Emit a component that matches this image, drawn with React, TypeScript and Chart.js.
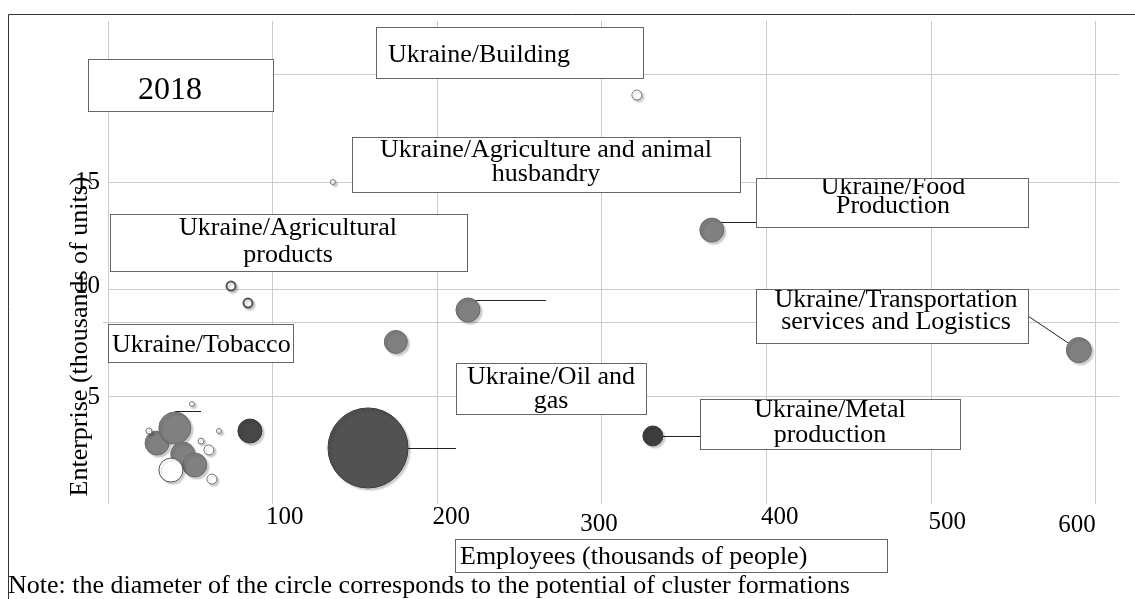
import React, { useEffect, useRef } from 'react';
import { Chart, registerables } from 'chart.js';
Chart.register(...registerables);

// ---- data (employees: thousands of people, enterprises: thousands of units, potential -> circle radius) ----
const filledEmployees = [29.8, 40.6, 45.4, 52.7, 174.8, 218.6, 366.7, 589.6];
const filledEnterprises = [2.84, 3.54, 2.33, 1.82, 7.55, 9.04, 12.76, 7.17];
const filledPotential = [12, 16, 12, 12, 11.5, 12, 12, 12.5];

const darkEmployees = [86.2, 157.9, 330.9];
const darkEnterprises = [3.4, 2.61, 3.17];
const darkPotential = [12, 40, 10];

const hollowEmployees = [24.9, 38.2, 51.0, 56.5, 61.3, 63.1, 67.4, 74.7, 85.0, 136.6, 321.2];
const hollowEnterprises = [3.4, 1.58, 4.66, 2.93, 2.52, 1.16, 3.4, 10.15, 9.36, 15.0, 19.05];
const hollowPotential = [3, 12, 2.5, 3, 5, 5, 2.5, 4.5, 4.5, 2.5, 5];

const xTickValues = [100, 200, 300, 400, 500, 600];
const xTickLabels = ['100', '200', '300', '400', '500', '600'];
const yTickValues = [5, 10, 15];
const yTickLabels = ['5', '10', '15'];
const strayLineValue = 8.5;

// ---- layout / style constants ----
const FONT = '"Liberation Serif", "Times New Roman", serif';
const xTickNudge = [[12, 8], [14, 8], [-3, 15], [13, 8], [16, 13], [-19, 16]];
const yTickNudge = [1, -3, 0];
const darkColors = ['#474747', '#525252', '#3d3d3d'];
const hollowBorder = ['#777', '#555', '#777', '#777', '#777', '#777', '#777', '#555', '#555', '#777', '#777'];
const hollowBorderWidth = [1, 1, 1, 1, 1, 1, 1, 2, 2, 1, 1];

type Box = { x: number; y: number; w: number; h: number; lines: string[]; size: number; align: 'left' | 'center'; tx: number; ty: number[] };
const boxes: Box[] = [
  { x: 88, y: 59, w: 185, h: 52, lines: ['2018'], size: 32, align: 'center', tx: 170, ty: [99] },
  { x: 376, y: 27, w: 267, h: 51, lines: ['Ukraine/Building'], size: 26, align: 'left', tx: 388, ty: [62] },
  { x: 352, y: 137, w: 388, h: 55, lines: ['Ukraine/Agriculture and animal', 'husbandry'], size: 26, align: 'center', tx: 546, ty: [157, 181] },
  { x: 110, y: 214, w: 357, h: 57, lines: ['Ukraine/Agricultural', 'products'], size: 26, align: 'center', tx: 288, ty: [235, 262] },
  { x: 108, y: 324, w: 185, h: 38, lines: ['Ukraine/Tobacco'], size: 26, align: 'left', tx: 112, ty: [352] },
  { x: 756, y: 178, w: 272, h: 49, lines: ['Ukraine/Food', 'Production'], size: 26, align: 'center', tx: 893, ty: [194, 213] },
  { x: 756, y: 289, w: 272, h: 54, lines: ['Ukraine/Transportation', 'services and Logistics'], size: 26, align: 'center', tx: 896, ty: [307, 329] },
  { x: 456, y: 363, w: 190, h: 51, lines: ['Ukraine/Oil and', 'gas'], size: 26, align: 'center', tx: 551, ty: [384, 408] },
  { x: 700, y: 399, w: 260, h: 50, lines: ['Ukraine/Metal', 'production'], size: 26, align: 'center', tx: 830, ty: [417, 442] },
  { x: 455, y: 539, w: 432, h: 33, lines: ['Employees (thousands of people)'], size: 26, align: 'left', tx: 460, ty: [564] },
];

type Leader = { ds: number; i: number; to: [number, number]; mode: 'h' | 'd' };
const leaders: Leader[] = [
  { ds: 2, i: 6, to: [756, 222], mode: 'h' },
  { ds: 2, i: 7, to: [1025, 314], mode: 'd' },
  { ds: 1, i: 2, to: [700, 436], mode: 'h' },
  { ds: 1, i: 1, to: [456, 448], mode: 'h' },
  { ds: 2, i: 5, to: [546, 300], mode: 'h' },
  { ds: 2, i: 1, to: [201, 411], mode: 'h' },
];

const annotations = {
  id: 'annotations',
  beforeDatasetsDraw(chart: any) {
    const ctx: CanvasRenderingContext2D = chart.ctx;
    const xs = chart.scales.x;
    const ys = chart.scales.y;
    const area = chart.chartArea;
    ctx.save();
    // outer frame
    ctx.strokeStyle = '#333';
    ctx.lineWidth = 1;
    ctx.beginPath();
    ctx.moveTo(8.5, 599);
    ctx.lineTo(8.5, 14.5);
    ctx.lineTo(1135, 14.5);
    ctx.stroke();
    // stray horizontal line
    const sy = Math.round(ys.getPixelForValue(strayLineValue)) + 0.5;
    ctx.strokeStyle = '#cccccc';
    ctx.beginPath();
    ctx.moveTo(area.left - 5, sy);
    ctx.lineTo(area.right, sy);
    ctx.stroke();
    // leaders
    ctx.strokeStyle = '#222';
    ctx.lineWidth = 1;
    leaders.forEach((l) => {
      const el = chart.getDatasetMeta(l.ds).data[l.i];
      if (!el) return;
      ctx.beginPath();
      if (l.mode === 'h') {
        ctx.moveTo(el.x, l.to[1] + 0.5);
        ctx.lineTo(l.to[0], l.to[1] + 0.5);
      } else {
        ctx.moveTo(el.x, el.y);
        ctx.lineTo(l.to[0], l.to[1]);
      }
      ctx.stroke();
    });
    // boxes
    boxes.forEach((b) => {
      ctx.fillStyle = '#fff';
      ctx.fillRect(b.x, b.y, b.w, b.h);
      ctx.strokeStyle = '#666';
      ctx.lineWidth = 1;
      ctx.strokeRect(b.x + 0.5, b.y + 0.5, b.w, b.h);
      ctx.save();
      ctx.beginPath();
      ctx.rect(b.x + 1, b.y + 1, b.w - 1, b.h - 1);
      ctx.clip();
      ctx.fillStyle = '#000';
      ctx.font = `${b.size}px ${FONT}`;
      ctx.textAlign = b.align;
      ctx.textBaseline = 'alphabetic';
      b.lines.forEach((t, k) => ctx.fillText(t, b.tx, b.ty[k]));
      ctx.restore();
    });
    // x tick labels
    ctx.fillStyle = '#000';
    ctx.font = `25px ${FONT}`;
    ctx.textAlign = 'center';
    ctx.textBaseline = 'alphabetic';
    xTickValues.forEach((v, k) => {
      const px = xs.getPixelForValue(v) + xTickNudge[k][0];
      ctx.fillText(xTickLabels[k], px, area.bottom + xTickNudge[k][1] + 12);
    });
    // y tick labels
    ctx.textAlign = 'right';
    ctx.textBaseline = 'middle';
    yTickValues.forEach((v, k) => {
      ctx.fillText(yTickLabels[k], 100, ys.getPixelForValue(v) + yTickNudge[k]);
    });
    // y title
    ctx.save();
    ctx.translate(87, (area.top + area.bottom) / 2 + 74);
    ctx.rotate(-Math.PI / 2);
    ctx.font = `26px ${FONT}`;
    ctx.textAlign = 'center';
    ctx.textBaseline = 'alphabetic';
    ctx.fillText('Enterprise (thousands of units)', 0, 0);
    ctx.restore();
    // note
    ctx.font = `26px ${FONT}`;
    ctx.textAlign = 'left';
    ctx.textBaseline = 'alphabetic';
    ctx.fillText('Note: the diameter of the circle corresponds to the potential of cluster formations', 8, 593);
    ctx.restore();
  },
  beforeDatasetDraw(chart: any) {
    const ctx: CanvasRenderingContext2D = chart.ctx;
    ctx.save();
    ctx.shadowColor = 'rgba(0,0,0,0.2)';
    ctx.shadowBlur = 2;
    ctx.shadowOffsetX = 2;
    ctx.shadowOffsetY = 2;
  },
  afterDatasetDraw(chart: any) {
    chart.ctx.restore();
  },
};

export default function App() {
  const ref = useRef<HTMLCanvasElement>(null);
  useEffect(() => {
    if (!ref.current) return;
    const chart = new Chart(ref.current, {
      type: 'bubble',
      data: {
        datasets: [
          {
            label: 'hollow',
            data: hollowEmployees.map((x, i) => ({ x, y: hollowEnterprises[i], r: hollowPotential[i] })),
            backgroundColor: '#ffffff',
            borderColor: hollowBorder,
            borderWidth: hollowBorderWidth,
          },
          {
            label: 'dark',
            data: darkEmployees.map((x, i) => ({ x, y: darkEnterprises[i], r: darkPotential[i] })),
            backgroundColor: darkColors,
            borderColor: '#3a3a3a',
            borderWidth: 1,
          },
          {
            label: 'filled',
            data: filledEmployees.map((x, i) => ({ x, y: filledEnterprises[i], r: filledPotential[i] })),
            backgroundColor: '#808080',
            borderColor: '#6a6a6a',
            borderWidth: 1,
          },
        ],
      },
      options: {
        responsive: false,
        animation: false,
        devicePixelRatio: 1,
        events: [],
        layout: { autoPadding: false, padding: { left: 108, top: 21, right: 16, bottom: 95 } },
        plugins: { legend: { display: false }, tooltip: { enabled: false } },
        scales: {
          x: {
            type: 'linear',
            min: 0,
            max: 614,
            ticks: { stepSize: 100, display: false, includeBounds: false },
            grid: { color: '#cccccc', drawTicks: false },
            border: { display: false },
            afterFit: (s: any) => { s.height = 0; },
          },
          y: {
            type: 'linear',
            min: 0,
            max: 22.5,
            ticks: { stepSize: 5, display: false, includeBounds: false },
            grid: { color: (c: any) => (c.tick && c.tick.value === 0 ? 'rgba(0,0,0,0)' : '#cccccc'), drawTicks: false },
            border: { display: false },
            afterFit: (s: any) => { s.width = 0; },
          },
        },
      } as any,
      plugins: [annotations],
    });
    return () => chart.destroy();
  }, []);
  return (
    <canvas
      ref={ref}
      width={1135}
      height={599}
      style={{ position: 'absolute', left: 0, top: 0, display: 'block', background: '#fff' }}
    />
  );
}
